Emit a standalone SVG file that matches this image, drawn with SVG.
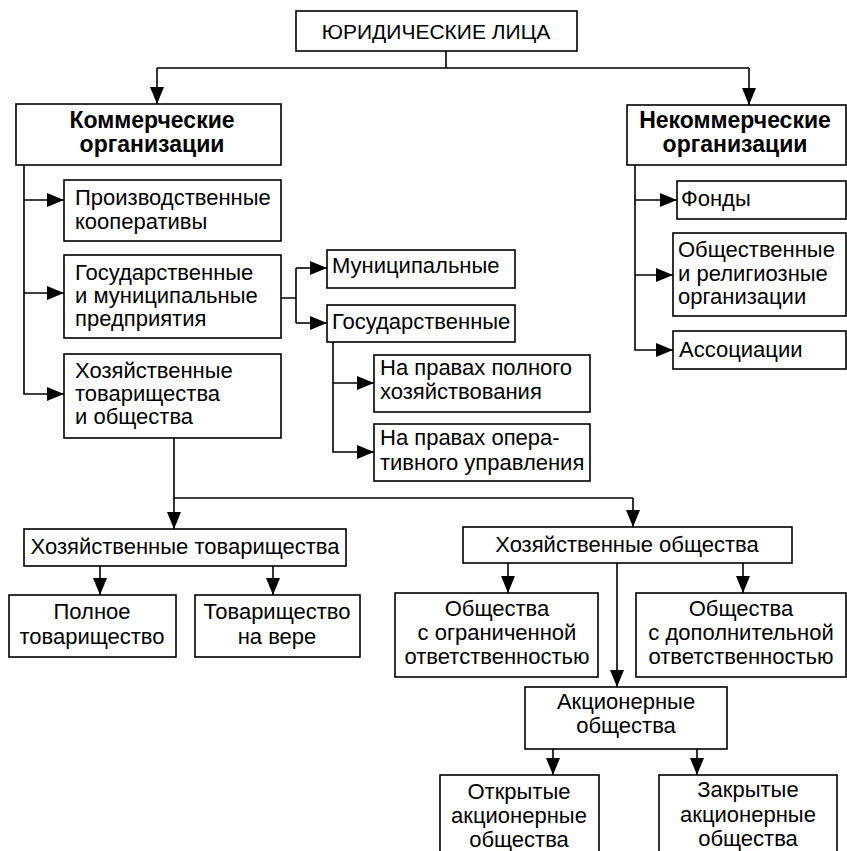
<svg xmlns="http://www.w3.org/2000/svg" width="847" height="851" viewBox="0 0 847 851">
<defs>
<style>
.b{fill:#fff;stroke:#000;stroke-width:1.6}
.t{font-family:"Liberation Sans",Arial,sans-serif;font-size:22px;fill:#000}
.c{text-anchor:middle}
.bd{font-weight:bold;font-size:23px}
.r{font-size:21px}
.ln{fill:none;stroke:#000;stroke-width:1.6}
</style>
<marker id="ar" markerUnits="userSpaceOnUse" markerWidth="17" markerHeight="14" refX="17" refY="7" orient="auto">
<path d="M0,0 L17,7 L0,14 z" fill="#000"/>
</marker>
</defs>
<rect width="847" height="851" fill="#fff"/>
<g id="connectors">
<path class="ln" d="M446,51 V68 M157,68 H749"/>
<path class="ln" d="M157,68 V104" marker-end="url(#ar)"/>
<path class="ln" d="M749,68 V105" marker-end="url(#ar)"/>
<path class="ln" d="M24,165 V394 H64" marker-end="url(#ar)"/>
<path class="ln" d="M24,200 H64" marker-end="url(#ar)"/>
<path class="ln" d="M24,293 H64" marker-end="url(#ar)"/>
<path class="ln" d="M281,298 H296 M296,268 V323"/>
<path class="ln" d="M296,268 H327" marker-end="url(#ar)"/>
<path class="ln" d="M296,323 H327" marker-end="url(#ar)"/>
<path class="ln" d="M333,342 V452 H374" marker-end="url(#ar)"/>
<path class="ln" d="M333,383 H374" marker-end="url(#ar)"/>
<path class="ln" d="M635,165 V350 H673" marker-end="url(#ar)"/>
<path class="ln" d="M635,200 H677" marker-end="url(#ar)"/>
<path class="ln" d="M635,275 H673" marker-end="url(#ar)"/>
<path class="ln" d="M174,438 V498 H633"/>
<path class="ln" d="M174,498 V529" marker-end="url(#ar)"/>
<path class="ln" d="M633,498 V527" marker-end="url(#ar)"/>
<path class="ln" d="M100,566 V595" marker-end="url(#ar)"/>
<path class="ln" d="M273,566 V595" marker-end="url(#ar)"/>
<path class="ln" d="M508,563 V593" marker-end="url(#ar)"/>
<path class="ln" d="M743,563 V593" marker-end="url(#ar)"/>
<path class="ln" d="M617,563 V687" marker-end="url(#ar)"/>
<path class="ln" d="M553,749 V775" marker-end="url(#ar)"/>
<path class="ln" d="M697,749 V775" marker-end="url(#ar)"/>
</g>
<g id="n-root"><rect class="b" x="296" y="11" width="281" height="40"/><text class="t c r" x="436" y="38.5">ЮРИДИЧЕСКИЕ ЛИЦА</text></g>
<g id="n-comm"><rect class="b" x="16" y="104" width="265" height="61"/><text class="t c bd" x="152" y="128">Коммерческие</text><text class="t c bd" x="152" y="152">организации</text></g>
<g id="n-noncomm"><rect class="b" x="627" y="105" width="219" height="60"/><text class="t c bd" x="735" y="128">Некоммерческие</text><text class="t c bd" x="735" y="152">организации</text></g>
<g id="n-prod"><rect class="b" x="64" y="180" width="217" height="61"/><text class="t" x="75" y="205">Производственные</text><text class="t" x="75" y="229">кооперативы</text></g>
<g id="n-gosmun"><rect class="b" x="64" y="255" width="217" height="83"/><text class="t" x="75" y="280">Государственные</text><text class="t" x="75" y="303">и муниципальные</text><text class="t" x="75" y="326">предприятия</text></g>
<g id="n-hoz"><rect class="b" x="64" y="354" width="217" height="84"/><text class="t" x="75" y="378">Хозяйственные</text><text class="t" x="75" y="401">товарищества</text><text class="t" x="75" y="424">и общества</text></g>
<g id="n-mun"><rect class="b" x="327" y="250" width="188" height="38"/><text class="t" x="332" y="273">Муниципальные</text></g>
<g id="n-gos"><rect class="b" x="327" y="305" width="188" height="37"/><text class="t" x="332" y="329">Государственные</text></g>
<g id="n-full"><rect class="b" x="374" y="355" width="216" height="57"/><text class="t" x="380" y="375">На правах полного</text><text class="t" x="380" y="399">хозяйствования</text></g>
<g id="n-oper"><rect class="b" x="374" y="424" width="216" height="57"/><text class="t" x="380" y="445">На правах опера-</text><text class="t" x="380" y="470">тивного управления</text></g>
<g id="n-fond"><rect class="b" x="677" y="181" width="169" height="38"/><text class="t" x="681" y="206">Фонды</text></g>
<g id="n-rel"><rect class="b" x="673" y="233" width="173" height="83"/><text class="t" x="678" y="257">Общественные</text><text class="t" x="678" y="280.5">и религиозные</text><text class="t" x="678" y="304">организации</text></g>
<g id="n-assoc"><rect class="b" x="673" y="331" width="173" height="38"/><text class="t" x="679" y="357">Ассоциации</text></g>
<g id="n-ht"><rect class="b" x="24" y="529" width="322" height="37"/><text class="t c" x="185" y="554">Хозяйственные товарищества</text></g>
<g id="n-full-p"><rect class="b" x="9" y="595" width="167" height="62"/><text class="t c" x="92" y="619">Полное</text><text class="t c" x="92" y="644">товарищество</text></g>
<g id="n-kom"><rect class="b" x="195" y="595" width="165" height="62"/><text class="t c" x="277" y="619">Товарищество</text><text class="t c" x="277" y="644">на вере</text></g>
<g id="n-ho"><rect class="b" x="463" y="527" width="329" height="36"/><text class="t c" x="627" y="552">Хозяйственные общества</text></g>
<g id="n-ooo"><rect class="b" x="395" y="593" width="203" height="84"/><text class="t c" x="497" y="616">Общества</text><text class="t c" x="497" y="640">с ограниченной</text><text class="t c" x="497" y="664">ответственностью</text></g>
<g id="n-odo"><rect class="b" x="636" y="593" width="210" height="84"/><text class="t c" x="741" y="616">Общества</text><text class="t c" x="741" y="640">с дополнительной</text><text class="t c" x="741" y="664">ответственностью</text></g>
<g id="n-ao"><rect class="b" x="525" y="687" width="202" height="62"/><text class="t c" x="626" y="709">Акционерные</text><text class="t c" x="626" y="733">общества</text></g>
<g id="n-oao"><rect class="b" x="440" y="775" width="159" height="90"/><text class="t c" x="519" y="799">Открытые</text><text class="t c" x="519" y="823">акционерные</text><text class="t c" x="519" y="847">общества</text></g>
<g id="n-zao"><rect class="b" x="659" y="775" width="178" height="90"/><text class="t c" x="748" y="797">Закрытые</text><text class="t c" x="748" y="822">акционерные</text><text class="t c" x="748" y="846">общества</text></g>
</svg>
